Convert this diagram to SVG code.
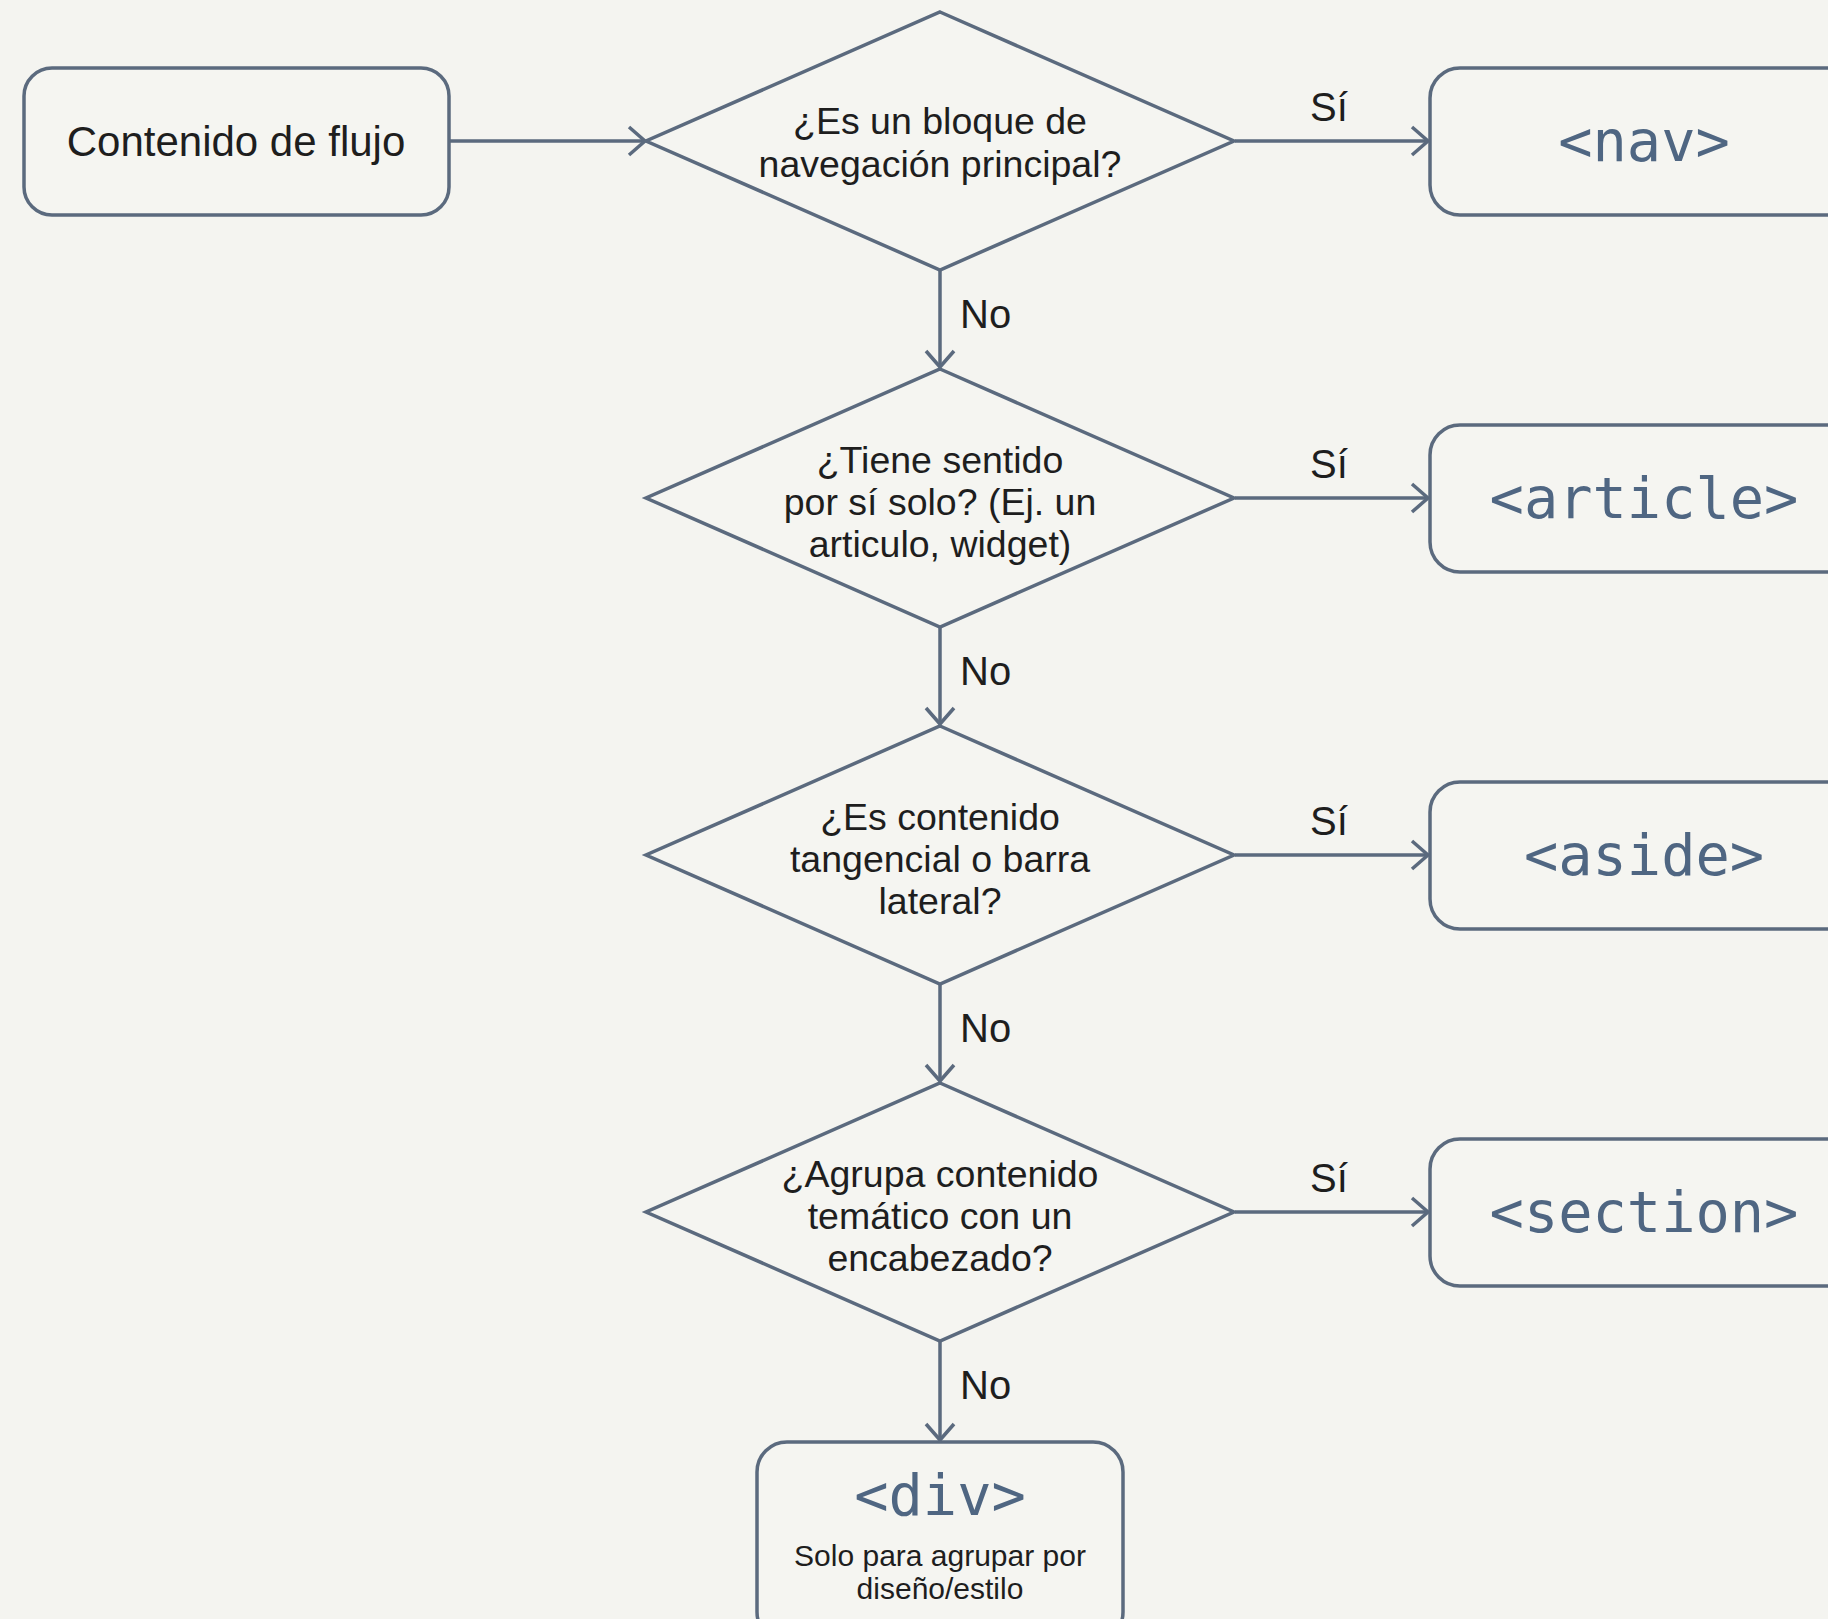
<svg xmlns="http://www.w3.org/2000/svg" width="1828" height="1619" viewBox="0 0 1828 1619">
<defs>
<style>
.node{fill:#f5f5f1;stroke:#5b6a7e;stroke-width:3.5}
.edge{fill:none;stroke:#5b6a7e;stroke-width:3.5}
.t{font-family:"Liberation Sans",Arial,sans-serif;font-size:37.5px;fill:#1e1e1e;text-anchor:middle}
.start{font-size:42px}
.lbl{font-family:"Liberation Sans",Arial,sans-serif;font-size:40px;fill:#1e1e1e}
.code{font-family:"DejaVu Sans Mono",monospace;font-size:57px;fill:#4f6682;text-anchor:middle}
.sub{font-family:"Liberation Sans",Arial,sans-serif;font-size:30px;fill:#1e1e1e;text-anchor:middle}
</style>
<marker id="arr" markerWidth="24" markerHeight="32" refX="20" refY="16" orient="auto" markerUnits="userSpaceOnUse">
<path d="M4,2 L20,16 L4,30" fill="none" stroke="#5b6a7e" stroke-width="3.5"/>
</marker>
</defs>
<rect width="1828" height="1619" fill="#f4f4f0"/>
<g id="connectors">
<line class="edge" x1="449" y1="141" x2="645" y2="141" marker-end="url(#arr)"/>
<line class="edge" x1="1235" y1="141" x2="1428" y2="141" marker-end="url(#arr)"/>
<line class="edge" x1="1235" y1="498" x2="1428" y2="498" marker-end="url(#arr)"/>
<line class="edge" x1="1235" y1="855" x2="1428" y2="855" marker-end="url(#arr)"/>
<line class="edge" x1="1235" y1="1212" x2="1428" y2="1212" marker-end="url(#arr)"/>
<line class="edge" x1="940" y1="270" x2="940" y2="367" marker-end="url(#arr)"/>
<line class="edge" x1="940" y1="627" x2="940" y2="724" marker-end="url(#arr)"/>
<line class="edge" x1="940" y1="984" x2="940" y2="1081" marker-end="url(#arr)"/>
<line class="edge" x1="940" y1="1341" x2="940" y2="1440" marker-end="url(#arr)"/>
<text class="lbl" x="1310" y="121">Sí</text>
<text class="lbl" x="1310" y="478">Sí</text>
<text class="lbl" x="1310" y="835">Sí</text>
<text class="lbl" x="1310" y="1192">Sí</text>
<text class="lbl" x="960" y="328">No</text>
<text class="lbl" x="960" y="685">No</text>
<text class="lbl" x="960" y="1042">No</text>
<text class="lbl" x="960" y="1399">No</text>
</g>
<g id="start">
<rect class="node" x="24" y="68" width="425" height="147" rx="28"/>
<text class="t start" x="236" y="156">Contenido de flujo</text>
</g>
<g id="q1">
<polygon class="node" points="940,12 1234,141 940,270 646,141"/>
<text class="t" x="940" y="134">¿Es un bloque de</text>
<text class="t" x="940" y="177">navegación principal?</text>
</g>
<g id="q2">
<polygon class="node" points="940,369 1234,498 940,627 646,498"/>
<text class="t" x="940" y="473">¿Tiene sentido</text>
<text class="t" x="940" y="515">por sí solo? (Ej. un</text>
<text class="t" x="940" y="557">articulo, widget)</text>
</g>
<g id="q3">
<polygon class="node" points="940,726 1234,855 940,984 646,855"/>
<text class="t" x="940" y="830">¿Es contenido</text>
<text class="t" x="940" y="872">tangencial o barra</text>
<text class="t" x="940" y="914">lateral?</text>
</g>
<g id="q4">
<polygon class="node" points="940,1083 1234,1212 940,1341 646,1212"/>
<text class="t" x="940" y="1187">¿Agrupa contenido</text>
<text class="t" x="940" y="1229">temático con un</text>
<text class="t" x="940" y="1271">encabezado?</text>
</g>
<g id="nav">
<rect class="node" x="1430" y="68" width="430" height="147" rx="30"/>
<text class="code" x="1644" y="161">&lt;nav&gt;</text>
</g>
<g id="article">
<rect class="node" x="1430" y="425" width="430" height="147" rx="30"/>
<text class="code" x="1644" y="518">&lt;article&gt;</text>
</g>
<g id="aside">
<rect class="node" x="1430" y="782" width="430" height="147" rx="30"/>
<text class="code" x="1644" y="875">&lt;aside&gt;</text>
</g>
<g id="section">
<rect class="node" x="1430" y="1139" width="430" height="147" rx="30"/>
<text class="code" x="1644" y="1232">&lt;section&gt;</text>
</g>
<g id="div">
<rect class="node" x="757" y="1442" width="366" height="200" rx="30"/>
<text class="code" x="940" y="1515">&lt;div&gt;</text>
<text class="sub" x="940" y="1566">Solo para agrupar por</text>
<text class="sub" x="940" y="1599">diseño/estilo</text>
</g>
</svg>
